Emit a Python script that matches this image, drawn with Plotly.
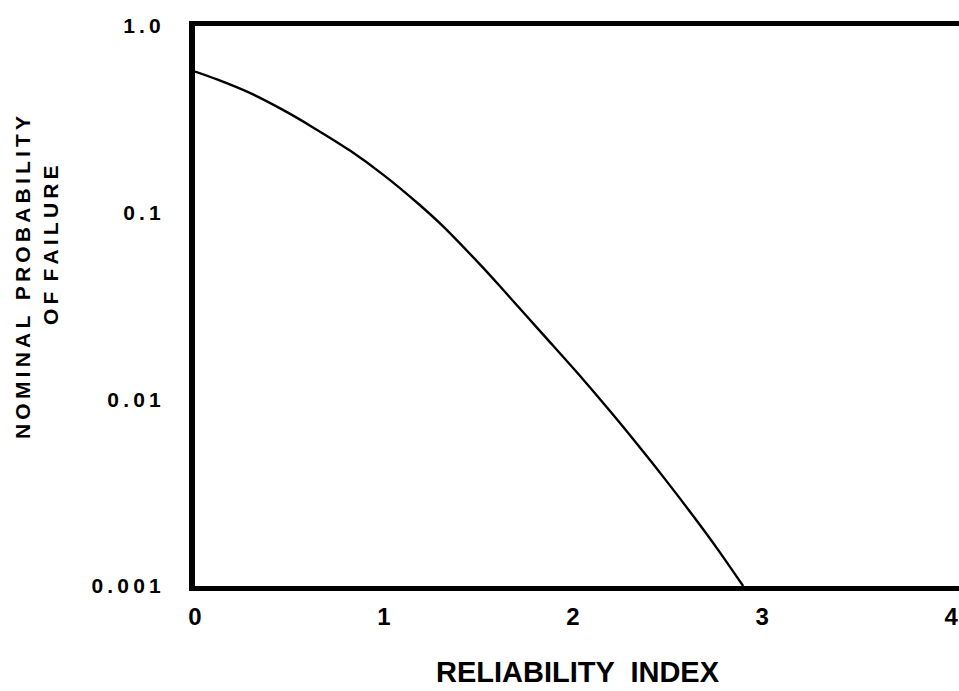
import plotly.graph_objects as go

# Reliability index (beta) and nominal probability of failure
beta = [0.0, 0.12, 0.29, 0.47, 0.62, 0.82, 1.0, 1.18, 1.31, 1.51, 1.61,
        1.76, 1.86, 2.05, 2.2, 2.34, 2.5, 2.64, 2.76, 2.9]
p_fail = [0.57, 0.516, 0.438, 0.353, 0.288, 0.215, 0.1585, 0.112, 0.085,
          0.0525, 0.0407, 0.0275, 0.0212, 0.0129, 0.00855, 0.00575, 0.00359,
          0.00234, 0.0016, 0.001]

x_ticks = [0, 1, 2, 3, 4]
x_tick_text = ["0", "1", "2", "3", "4"]
y_ticks = [1.0, 0.1, 0.01, 0.001]
y_tick_text = ["1.0", "0.1", "0.01", "0.001"]

TS = "\u2009"  # thin space used for letter tracking


def tracked(s):
    return TS.join(s)


W, H = 959, 691
ML, MR, MT, MB = 195, 0, 26, 105
PW, PH = W - ML - MR, H - MT - MB


def px(x):
    return (x - ML) / PW


def py(y):
    return (H - MB - y) / PH


FONT = "Liberation Sans, Arial, Helvetica, sans-serif"

fig = go.Figure()
fig.add_trace(go.Scatter(
    x=beta, y=p_fail, mode="lines",
    line=dict(color="black", width=2.4, shape="spline", smoothing=0.8),
    showlegend=False, hoverinfo="skip",
))

fig.update_xaxes(
    range=[0, 4.042], tickmode="array", tickvals=x_ticks, ticktext=x_tick_text,
    showgrid=False, zeroline=False, showline=True, linecolor="black",
    linewidth=5, mirror=True, ticks="", ticklabelstandoff=5,
    tickfont=dict(family=FONT, size=24, color="black", weight="bold"),
)
fig.update_yaxes(
    type="log", range=[-3, 0], tickmode="array", tickvals=y_ticks,
    ticktext=[tracked(t) for t in y_tick_text],
    showgrid=False, zeroline=False, showline=True, linecolor="black",
    linewidth=6, mirror=False, ticks="", ticklabelstandoff=24,
    tickfont=dict(family=FONT, size=21, color="black", weight="bold"),
)

title_font = dict(family=FONT, size=21, color="black", weight="bold")
fig.add_annotation(
    text=tracked("NOMINAL") + "  " + TS + tracked("PROBABILITY"),
    xref="paper", yref="paper", x=px(22), y=py(278), textangle=-90,
    showarrow=False, font=title_font, xanchor="center", yanchor="middle",
)
fig.add_annotation(
    text=tracked("OF") + " " + TS + tracked("FAILURE"),
    xref="paper", yref="paper", x=px(50), y=py(245), textangle=-90,
    showarrow=False, font=title_font, xanchor="center", yanchor="middle",
)
fig.add_annotation(
    text="RELIABILITY  INDEX",
    xref="paper", yref="paper", x=px(578), y=py(672),
    showarrow=False, xanchor="center", yanchor="middle",
    font=dict(family="Liberation Sans Narrow, " + FONT, size=29,
              color="black", weight="bold"),
)

fig.update_layout(
    width=W, height=H, autosize=False,
    margin=dict(l=ML, r=MR, t=MT, b=MB),
    paper_bgcolor="white", plot_bgcolor="white",
)

fig.write_html("out.html")
